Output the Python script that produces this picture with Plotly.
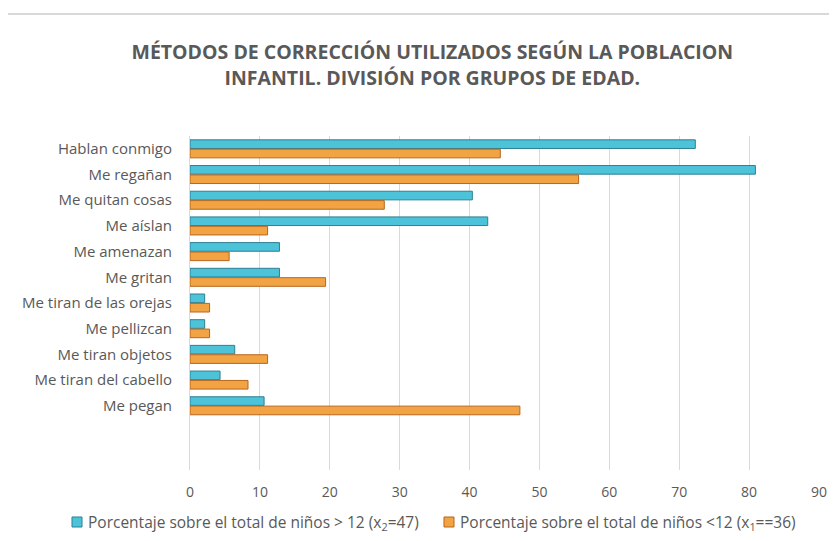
import plotly.graph_objects as go

categorias = [
    "Hablan conmigo",
    "Me regañan",
    "Me quitan cosas",
    "Me aíslan",
    "Me amenazan",
    "Me gritan",
    "Me tiran de las orejas",
    "Me pellizcan",
    "Me tiran objetos",
    "Me tiran del cabello",
    "Me pegan",
]
mayores_12 = [72.3, 80.9, 40.4, 42.6, 12.8, 12.8, 2.1, 2.1, 6.4, 4.3, 10.6]
menores_12 = [44.4, 55.6, 27.8, 11.1, 5.6, 19.4, 2.8, 2.8, 11.1, 8.3, 47.2]
nombre_mayores = "Porcentaje sobre el total de niños > 12 (x<sub>2</sub>=47)"
nombre_menores = "Porcentaje sobre el total de niños <12 (x<sub>1</sub>==36)"
ticks_x = [0, 10, 20, 30, 40, 50, 60, 70, 80, 90]

gris = "#595959"
fuente = "Open Sans, Noto Sans, sans-serif"
azul, borde_azul = "#4DC3DA", "#2E7F92"
naranja, borde_naranja = "#F2A445", "#B8651C"

fig = go.Figure()
fig.add_trace(go.Bar(
    y=categorias, x=mayores_12, orientation="h", name=nombre_mayores,
    marker=dict(color=azul, line=dict(color=borde_azul, width=1)),
))
fig.add_trace(go.Bar(
    y=categorias, x=menores_12, orientation="h", name=nombre_menores,
    marker=dict(color=naranja, line=dict(color=borde_naranja, width=1)),
))

# leyenda a mano: la de plotly se parte en dos filas
leyenda = [(nombre_mayores, azul, borde_azul, -0.1876), (nombre_menores, naranja, borde_naranja, 0.4038)]
shapes = [dict(type="line", xref="paper", yref="paper", x0=-0.3, x1=1.05,
               y0=1.365, y1=1.365, line=dict(color="#D9D9D9", width=2))]
annotations = []
for texto, color, borde, x0 in leyenda:
    shapes.append(dict(type="rect", xref="paper", yref="paper", x0=x0, x1=x0 + 0.0159,
                       y0=-0.1707, y1=-0.1407, fillcolor=color, line=dict(color=borde, width=1)))
    annotations.append(dict(text=texto, xref="paper", yref="paper", x=x0 + 0.022, y=-0.1557,
                            xanchor="left", yanchor="middle", showarrow=False,
                            font=dict(size=15.5, color=gris)))

# la página añade 8 px de margen al cuerpo, se compensa aquí
fig.update_layout(
    width=837, height=541,
    margin=dict(l=182, r=26, t=128, b=79, autoexpand=False),
    paper_bgcolor="white", plot_bgcolor="white",
    font=dict(family=fuente, color=gris, size=14),
    title=dict(
        text="<b>MÉTODOS DE CORRECCIÓN UTILIZADOS SEGÚN LA POBLACION<br>INFANTIL. DIVISIÓN POR GRUPOS DE EDAD.</b>",
        x=0.507, xanchor="center", y=0.905, yanchor="middle",
        font=dict(size=19.5, color=gris, family=fuente),
    ),
    barmode="group", bargap=0.27, bargroupgap=0.08,
    showlegend=False,
    xaxis=dict(
        range=[0, 90], tickvals=ticks_x, showgrid=True, gridcolor="#D9D9D9",
        gridwidth=1, zeroline=False, ticks="", ticklabelstandoff=12,
        tickfont=dict(size=14, color=gris),
    ),
    yaxis=dict(
        type="category", categoryorder="array", categoryarray=categorias,
        range=[12.5, -0.5], showline=True, linecolor="#D9D9D9",
        ticks="", tickfont=dict(size=15, color=gris), ticklabelstandoff=14,
    ),
    shapes=shapes,
    annotations=annotations,
)

fig.write_html("out.html")
